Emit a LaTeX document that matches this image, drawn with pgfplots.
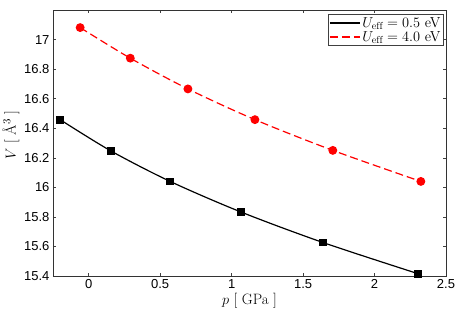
\documentclass[border=0pt]{standalone}
\usepackage{pgfplots}
\pgfplotsset{compat=1.18}
\usepackage{fontspec}
\setsansfont{Liberation Sans}
\begin{document}
\begin{tikzpicture}
\useasboundingbox (-53pt,-38pt) rectangle (405pt,276pt);
\begin{axis}[
  at={(0pt,0pt)}, anchor=south west,
  scale only axis, width=393pt, height=266pt,
  xmin=-0.25, xmax=2.5, ymin=15.4, ymax=17.2,
  xtick={0,0.5,1,1.5,2,2.5},
  ytick={15.4,15.6,15.8,16,16.2,16.4,16.6,16.8,17},
  tick align=inside, major tick length=3pt,
  tick style={black!75, line width=0.5pt},
  axis line style={black!80, line width=0.6pt},
  /pgf/number format/assume math mode=true,
  ticklabel style={font=\sffamily\fontsize{13}{15}\selectfont},
  xlabel={$p$~[~GPa~]},
  ylabel={$V$~[~Å$^3$~]},
  label style={font=\fontsize{15}{18}\selectfont},
  xlabel style={yshift=2pt},
  ylabel style={yshift=-2pt, xshift=8pt},
  legend style={at={(0.995,0.985)}, anchor=north east,
    font=\fontsize{14.5}{15}\selectfont, inner sep=1pt, row sep=-1.5pt,
    draw=black!75, line width=0.8pt},
  legend cell align=left,
  legend image code/.code={\draw[#1] (0pt,0pt) -- (30pt,0pt);},
]
\addplot[black, line width=1.2pt, smooth, mark=square*, mark size=3.3pt,
  mark options={solid}]
  coordinates {(-0.20,16.458) (0.154,16.247) (0.57,16.040) (1.063,15.834) (1.638,15.627) (2.303,15.416)};
\addlegendentry{$U_{\mathrm{eff}}=0.5$ eV}
\addplot[red, line width=1.2pt, smooth, dash pattern=on 8pt off 4pt, mark=*, mark size=3.8pt,
  mark options={solid}]
  coordinates {(-0.06,17.081) (0.291,16.874) (0.694,16.666) (1.163,16.458) (1.708,16.250) (2.324,16.040)};
\addlegendentry{$U_{\mathrm{eff}}=4.0$ eV}
\end{axis}
\end{tikzpicture}
\end{document}
